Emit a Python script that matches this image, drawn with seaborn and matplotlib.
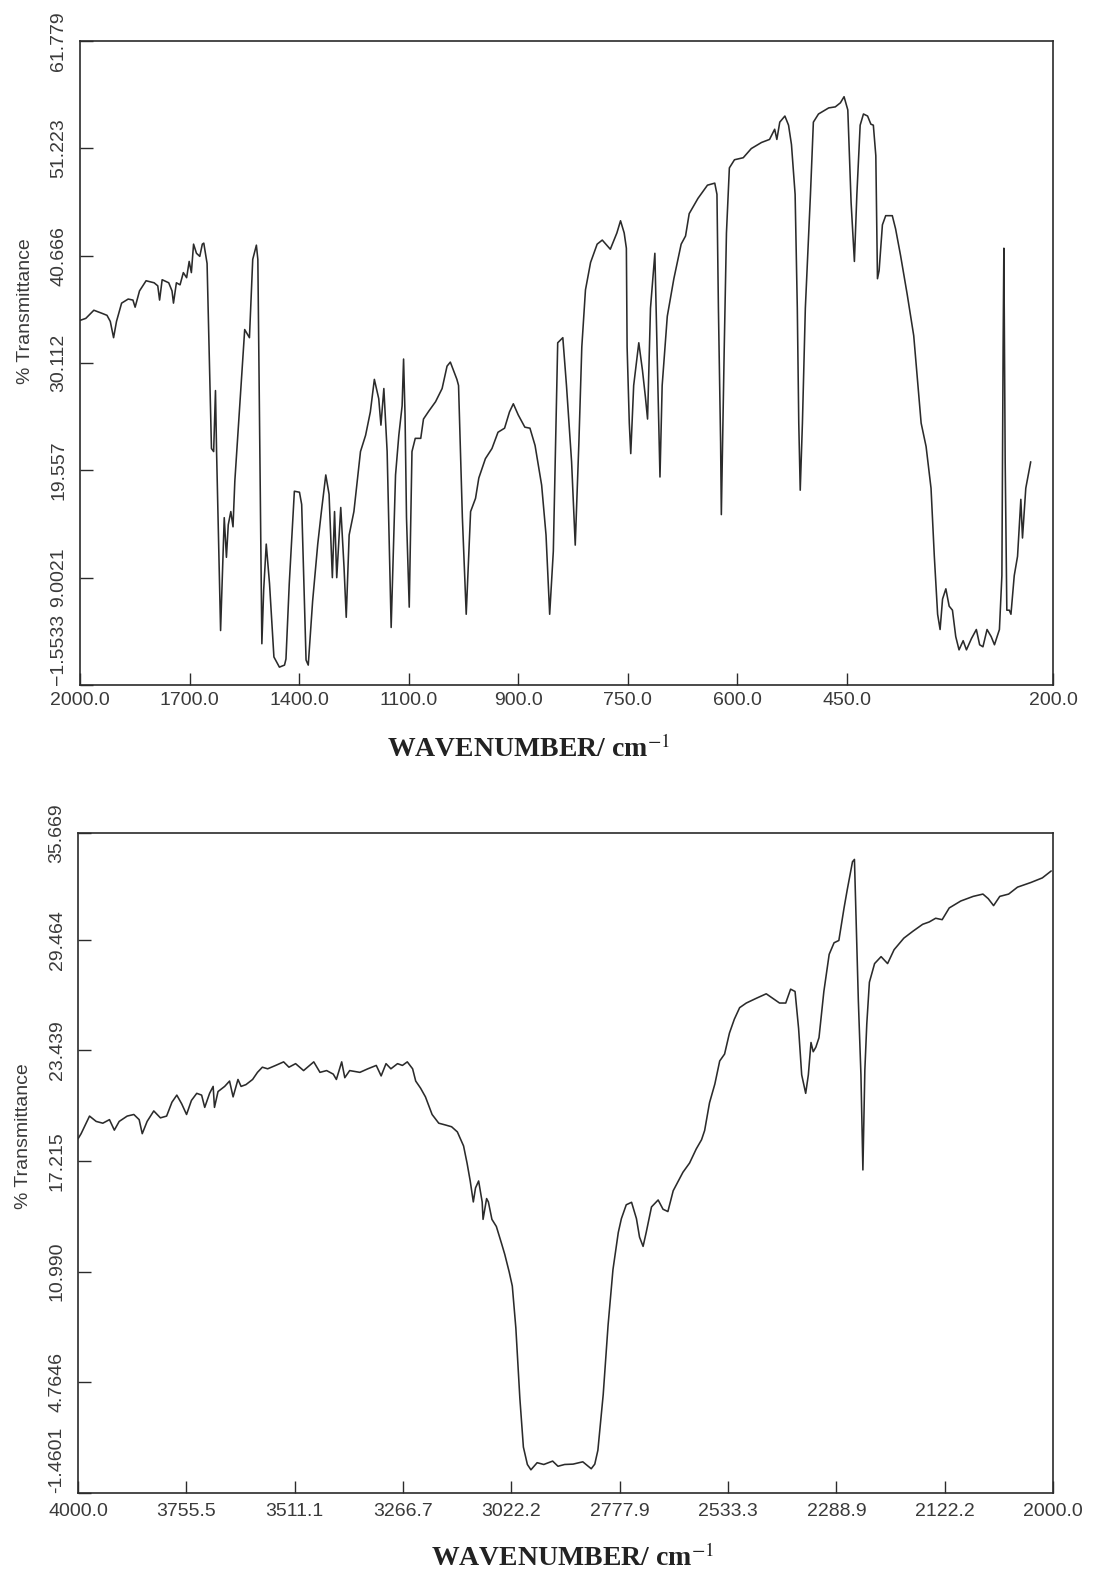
import numpy as np
import pandas as pd
import seaborn as sns
import matplotlib
matplotlib.use("Agg")
import matplotlib.pyplot as plt

# ---- data ----
# upper panel: 2000 - 200 cm-1
top_wn = [2000, 1984, 1962, 1940, 1926, 1917, 1908, 1900, 1886, 1868, 1855, 1849, 1837, 1819,
          1797, 1787, 1782, 1775, 1757, 1748, 1744, 1736, 1726, 1717, 1708, 1701, 1695, 1689,
          1681, 1672, 1665, 1661, 1652, 1640, 1634, 1629, 1626, 1615, 1605, 1599, 1594, 1587,
          1581, 1576, 1563, 1549, 1536, 1527, 1517, 1513, 1502, 1497, 1490, 1481, 1469, 1454,
          1440, 1436, 1427, 1413, 1399, 1393, 1381, 1375, 1363, 1349, 1339, 1327, 1318, 1309,
          1303, 1297, 1286, 1277, 1271, 1263, 1250, 1232, 1218, 1205, 1194, 1182, 1176, 1168,
          1159, 1148, 1136, 1127, 1118, 1114, 1110, 1106, 1099, 1094, 1088, 1078, 1073, 1063,
          1051, 1039, 1030, 1024, 1012, 1009, 1002, 995, 987, 978, 972, 960, 948, 937, 925,
          916, 909, 900, 891, 884, 877, 868, 862, 857, 852, 846, 839, 834, 827, 822, 817, 813,
          808, 801, 792, 785, 774, 765, 760, 755, 752, 751, 748, 746, 742, 735, 730, 726, 723,
          719, 713, 710, 706, 703, 696, 687, 677, 671, 666, 654, 641, 631, 628, 626, 623, 622,
          618, 615, 611, 604, 592, 581, 567, 556, 549, 546, 542, 535, 530, 526, 521, 518, 516,
          514, 511, 507, 500, 496, 489, 475, 466, 459, 454, 449, 447, 445, 441, 438, 434, 430,
          425, 421, 418, 415, 413, 411, 407, 403, 395, 391, 385, 377, 369, 360, 354, 348, 344,
          340, 337, 334, 330, 326, 322, 318, 314, 309, 305, 299, 293, 289, 285, 280, 275, 271,
          265, 262, 260.5, 259.6, 258, 256, 253, 251, 247, 243, 239, 237, 233, 227]
top_t = [34.3, 34.5, 35.3, 35.0, 34.8, 34.2, 32.6, 34.2, 36.0, 36.4, 36.3, 35.6, 37.2, 38.2,
         38.0, 37.7, 36.3, 38.3, 38.0, 37.2, 36.0, 38.0, 37.8, 39.0, 38.5, 40.1, 39.0, 41.8,
         40.9, 40.6, 41.8, 41.9, 39.9, 21.7, 21.4, 27.4, 21.4, 3.8, 14.9, 11.0, 14.2, 15.5,
         14.0, 18.5, 25.6, 33.4, 32.6, 40.3, 41.7, 40.3, 2.5, 7.8, 12.3, 8.4, 1.2, 0.2,
         0.4, 1.0, 8.4, 17.5, 17.4, 16.2, 0.9, 0.4, 6.7, 12.3, 15.5, 19.1, 17.2, 9.0,
         15.5, 9.0, 15.9, 10.0, 5.1, 13.2, 15.5, 21.4, 23.0, 25.3, 28.5, 26.6, 24.0, 27.6,
         21.4, 4.1, 19.1, 23.0, 25.9, 30.5, 25.0, 14.9, 6.1, 21.4, 22.7, 22.7, 24.6, 25.4,
         26.3, 27.6, 29.8, 30.2, 28.5, 27.9, 14.9, 5.4, 15.5, 16.8, 18.8, 20.7, 21.7, 23.3, 23.7,
         25.3, 26.1, 25.0, 23.8, 23.7, 22.0, 18.1, 13.2, 5.4, 11.6, 32.1, 32.6, 27.9, 20.4, 12.2, 22.3, 31.7,
         37.3, 40.0, 41.8, 42.2, 41.3, 42.9, 44.1, 42.9, 41.4, 31.7, 24.2, 21.2, 27.9, 32.1, 29.4, 26.8, 24.6,
         35.5, 40.9, 31.7, 18.9, 27.9, 34.7, 38.4, 41.8, 42.6, 44.8, 46.3, 47.6, 47.8, 46.7, 35.5, 22.3, 15.2,
         31.7, 42.9, 49.3, 50.1, 50.3, 51.2, 51.8, 52.1, 53.1, 52.1, 53.8, 54.4, 53.5, 51.6, 46.7, 35.5, 24.2,
         17.6, 24.2, 35.5, 46.7, 53.8, 54.6, 55.2, 55.3, 55.7, 56.3, 55.0, 50.5, 45.9, 40.1, 46.7, 53.5, 54.6,
         54.4, 53.6, 53.5, 50.5, 38.4, 39.2, 43.7, 44.6, 44.6, 43.3, 40.7, 36.9, 32.8, 24.2, 21.9, 17.8, 11.1,
         5.4, 3.9, 6.9, 7.9, 6.2, 5.8, 3.2, 1.9, 2.8, 1.9, 3.0, 3.9, 2.4, 2.2, 3.9, 3.2, 2.4,
         3.9, 9.2, 31.7, 41.4, 20.4, 5.8, 5.8, 5.4, 9.2, 11.1, 16.7, 12.9, 17.8, 20.4]

# lower panel: 4000 - 2000 cm-1
bot_wn = [4000, 3993, 3974, 3959, 3944, 3929, 3918, 3907, 3889, 3874, 3862, 3855, 3844, 3829,
          3814, 3800, 3788, 3777, 3766, 3755, 3744, 3732, 3721, 3714, 3703, 3695, 3692, 3684,
          3669, 3658, 3650, 3639, 3632, 3621, 3606, 3595, 3584, 3572, 3554, 3536, 3524, 3509,
          3491, 3468, 3454, 3439, 3424, 3417, 3405, 3398, 3387, 3364, 3346, 3327, 3316, 3305,
          3294, 3279, 3268, 3257, 3245, 3238, 3227, 3216, 3201, 3186, 3171, 3157, 3144, 3137,
          3130, 3122, 3115, 3108, 3103, 3096, 3088, 3086, 3078, 3074, 3066, 3056, 3044, 3037,
          3027, 3020, 3012, 3003, 2995, 2986, 2978, 2964, 2949, 2929, 2917, 2902, 2883, 2861,
          2842, 2834, 2827, 2815, 2804, 2793, 2781, 2774, 2763, 2751, 2740, 2733, 2725, 2718,
          2706, 2691, 2680, 2669, 2657, 2646, 2635, 2620, 2605, 2593, 2586, 2575, 2563, 2552,
          2541, 2530, 2519, 2507, 2492, 2470, 2447, 2432, 2417, 2403, 2392, 2382, 2374, 2367,
          2358, 2352, 2346, 2341, 2335, 2328, 2317, 2305, 2294, 2285, 2277, 2272, 2264, 2261,
          2259, 2255, 2251, 2248, 2245, 2242, 2238, 2230, 2220, 2210, 2200, 2185, 2171, 2156,
          2146, 2136, 2126, 2117, 2104, 2090, 2079, 2073, 2067, 2060, 2050, 2040, 2025, 2012, 2002]
bot_t = [18.46, 18.75, 19.74, 19.44, 19.34, 19.54, 18.95, 19.44, 19.74, 19.83, 19.54, 18.75, 19.44, 20.03,
         19.64, 19.74, 20.52, 20.92, 20.43, 19.83, 20.62, 21.02, 20.92, 20.23, 21.02, 21.41, 20.23, 21.12,
         21.41, 21.71, 20.82, 21.80, 21.41, 21.51, 21.80, 22.20, 22.49, 22.40, 22.59, 22.79, 22.49, 22.69,
         22.30, 22.79, 22.20, 22.30, 22.10, 21.80, 22.79, 21.90, 22.30, 22.20, 22.40, 22.59, 22.00, 22.69,
         22.40, 22.69, 22.59, 22.79, 22.40, 21.71, 21.31, 20.82, 19.83, 19.34, 19.24, 19.14, 18.85, 18.46,
         18.06, 17.08, 16.09, 14.91, 15.70, 16.09, 14.91, 13.93, 15.10, 14.91, 13.93, 13.53, 12.55, 11.96,
         10.97, 10.18, 7.82, 3.88, 1.12, 0.14, -0.16, 0.24, 0.14, 0.33, 0.04, 0.14, 0.16, 0.29,
         -0.10, 0.16, 0.94, 4.07, 7.98, 11.10, 13.19, 13.97, 14.75, 14.89, 13.97, 12.93, 12.41, 13.19,
         14.63, 15.02, 14.50, 14.37, 15.54, 16.06, 16.58, 17.10, 17.89, 18.41, 18.93, 20.49, 21.54, 22.84,
         23.23, 24.41, 25.19, 25.84, 26.10, 26.36, 26.62, 26.36, 26.10, 26.10, 26.88, 26.75, 24.67, 22.06,
         21.02, 22.06, 23.88, 23.36, 23.62, 24.15, 26.75, 28.84, 29.49, 29.62, 31.45, 32.49, 34.05, 34.18,
         31.45, 26.23, 22.06, 16.71, 22.32, 24.93, 27.27, 28.32, 28.71, 28.32, 29.10, 29.75, 30.14, 30.53,
         30.66, 30.87, 30.79, 31.45, 31.84, 32.10, 32.23, 31.97, 31.58, 32.10, 32.23, 32.62, 32.88, 33.14, 33.53]

# printed tick marks of the chart recorder
top_xticks = [2000, 1700, 1400, 1100, 900, 750, 600, 450, 200]
top_xlabels = ["2000.0", "1700.0", "1400.0", "1100.0", "900.0", "750.0", "600.0", "450.0", "200.0"]
top_yticks = [-1.5533, 9.0021, 19.557, 30.112, 40.666, 51.223, 61.779]
top_ylabels = ["\u22121.5533", "9.0021", "19.557", "30.112", "40.666", "51.223", "61.779"]

bot_xticks = [4000, 3755.5, 3511.1, 3266.7, 3022.2, 2777.9, 2533.3, 2288.9, 2122.2, 2000]
bot_xlabels = ["4000.0", "3755.5", "3511.1", "3266.7", "3022.2", "2777.9", "2533.3", "2288.9", "2122.2", "2000.0"]
bot_yticks = [-1.4601, 4.7646, 10.990, 17.215, 23.439, 29.664, 35.669]
bot_ylabels = ["-1.4601", "4.7646", "10.990", "17.215", "23.439", "29.464", "35.669"]

# the recorder's abscissa is piecewise linear between printed ticks
top_grid = [0, 1, 2, 3, 4, 5, 6, 7, 8.88]
bot_grid = [0, 1, 2, 3, 4, 5, 6, 7, 8, 9]

sns.set_style("ticks")
plt.rcParams["font.family"] = ["Liberation Sans", "DejaVu Sans"]
plt.rcParams["mathtext.fontset"] = "stix"

fig = plt.figure(figsize=(10.94, 15.71), dpi=100)
ax1 = fig.add_axes([0.0731, 0.5640, 0.8894, 0.4099])
ax2 = fig.add_axes([0.0713, 0.0497, 0.8912, 0.4201])

ink = "#2b2b2b"
txt = "#3a3a3a"


def piecewise_scale(ticks, grid):
    wn = np.array(ticks[::-1], dtype=float)
    pos = (grid[-1] - np.array(grid, dtype=float))[::-1]

    def fwd(x):
        return np.interp(x, wn, pos)

    def inv(p):
        return np.interp(p, pos, wn)
    return fwd, inv


def draw(ax, wn, t, xt, xl, yt, yl, grid, pad_x, ylab_y, xlab_x, xlab_pad):
    df = pd.DataFrame({"wavenumber": wn, "T": t})
    sns.lineplot(data=df, x="wavenumber", y="T", ax=ax, color=ink, linewidth=1.15,
                 estimator=None)
    fwd, inv = piecewise_scale(xt, grid)
    ax.set_xscale("function", functions=(fwd, inv))
    ax.set_xlim(xt[0], xt[-1])
    ax.set_ylim(yt[0], yt[-1])
    ax.set_xticks(xt)
    ax.set_xticklabels(xl)
    ax.set_yticks(yt)
    ax.set_yticklabels(yl, rotation=90, va="center")
    # lowest value sits above the corner, clear of the first x label
    ax.get_yticklabels()[0].set_va("bottom")
    ax.minorticks_off()
    ax.tick_params(axis="both", direction="in", length=9, width=1.0, colors=ink,
                   labelcolor=txt, labelsize=14)
    ax.tick_params(axis="x", pad=pad_x)
    ax.tick_params(axis="y", pad=9)
    for s in ax.spines.values():
        s.set_color(ink)
        s.set_linewidth(1.2)
    ax.set_ylabel("% Transmittance", fontsize=14, color=txt)
    ax.yaxis.set_label_coords(-0.047, ylab_y)
    ax.set_xlabel("WAVENUMBER/ cm$^{-1}$", fontsize=20, fontweight="bold",
                  family="Liberation Serif", color="#222222", labelpad=xlab_pad)
    ax.xaxis.label.set_x(xlab_x)


draw(ax1, top_wn, top_t, top_xticks, top_xlabels, top_yticks, top_ylabels, top_grid, 5, 0.58, 0.461, 19)
draw(ax2, bot_wn, bot_t, bot_xticks, bot_xlabels, bot_yticks, bot_ylabels, bot_grid, 7, 0.54, 0.507, 18)

fig.savefig("out.png", dpi=100, facecolor="white")
